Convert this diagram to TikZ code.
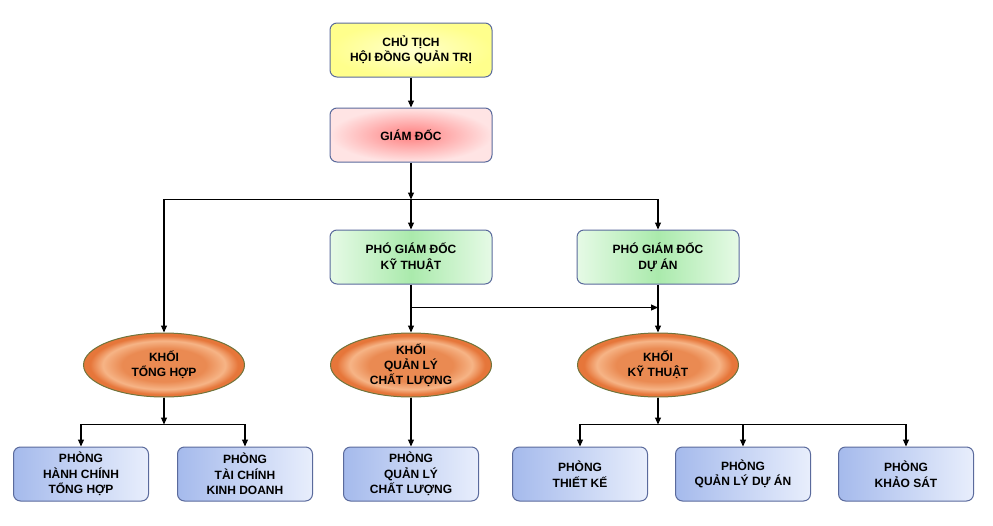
\documentclass[tikz,border=0pt]{standalone}
\usepackage{fontspec}
\setmainfont{Liberation Sans}
\usepackage{tikz}
\usetikzlibrary{arrows.meta,positioning,shapes.geometric}

\definecolor{boxline}{RGB}{90,106,156}
\definecolor{khoiline}{RGB}{112,116,60}
\definecolor{khoicore}{RGB}{234,138,82}
\definecolor{khoiring}{RGB}{246,180,134}
\definecolor{khoiedge}{RGB}{230,118,58}
\pgfdeclareradialshading{khoishade}{\pgfpoint{0bp}{0bp}}{%
  color(0bp)=(khoicore); color(13bp)=(khoicore); color(19bp)=(khoiring);
  color(23bp)=(khoiedge); color(25bp)=(khoiedge); color(50bp)=(khoiedge)}

\begin{document}
\begin{tikzpicture}[
	x=1pt, y=1pt,
	font=\fontsize{12}{15.5}\selectfont\bfseries,
	box/.style={rectangle, rounded corners=7pt, draw=boxline, line width=1pt, align=center, minimum width=162pt, minimum height=54pt, inner sep=2pt},
	chairbox/.style={box, inner color={rgb,255:red,255;green,255;blue,205}, outer color={rgb,255:red,255;green,255;blue,140}},
	ceobox/.style={box, inner color={rgb,255:red,255;green,128;blue,128}, outer color={rgb,255:red,255;green,228;blue,228}},
	deputybox/.style={box, left color={rgb,255:red,230;green,250;blue,230}, right color={rgb,255:red,230;green,250;blue,230}, middle color={rgb,255:red,170;green,234;blue,172}},
	khoi/.style={ellipse, draw=khoiline, line width=1pt, align=center, minimum width=161pt, minimum height=64pt, inner sep=0pt, shading=khoishade, font=\fontsize{12}{15}\selectfont\bfseries},
	phong/.style={box, minimum width=135pt, left color={rgb,255:red,165;green,186;blue,236}, right color={rgb,255:red,232;green,238;blue,252}},
	line/.style={-{Triangle[length=7pt,width=6pt]}, line width=1.1pt}
]
\useasboundingbox (0,0) rectangle (993,-525);

\node[chairbox] (chutich) at (411,-50) {CHỦ TỊCH\\HỘI ĐỒNG QUẢN TRỊ};
\node[ceobox, below=30pt of chutich] (giamdoc) {GIÁM ĐỐC};
\node[deputybox, below=67pt of giamdoc] (pgdkt) {PHÓ GIÁM ĐỐC\\KỸ THUẬT};
\node[deputybox, right=84pt of pgdkt] (pgdda) {PHÓ GIÁM ĐỐC\\DỰ ÁN};
\node[khoi, below=48pt of pgdkt] (khoiql) {KHỐI\\QUẢN LÝ\\CHẤT LƯỢNG};
\node[khoi, below=48pt of pgdda] (khoikt) {KHỐI\\KỸ THUẬT};
\node[khoi, left=85pt of khoiql] (khoith) {KHỐI\\TỔNG HỢP};
\node[phong, below=49pt of khoiql] (pqlcl) {PHÒNG\\QUẢN LÝ\\CHẤT LƯỢNG};
\node[phong, left=30pt of pqlcl] (ptckd) {PHÒNG\\TÀI CHÍNH\\KINH DOANH};
\node[phong, left=28pt of ptckd] (phcth) {PHÒNG\\HÀNH CHÍNH\\TỔNG HỢP};
\node[phong, right=33pt of pqlcl] (ptk) {PHÒNG\\THIẾT KẾ};
\node[phong, right=27pt of ptk] (pqlda) {PHÒNG\\QUẢN LÝ DỰ ÁN};
\node[phong, right=27pt of pqlda] (pks) {PHÒNG\\KHẢO SÁT};

\coordinate[below=37pt of giamdoc.south] (busgd);
\coordinate[below=23pt of pgdkt.south] (busql);
\coordinate[below=27pt of khoith.south] (busth);
\coordinate[below=27pt of khoikt.south] (buskt);

\draw[line] (chutich) -- (giamdoc);
\draw[line] (giamdoc) -- (busgd);
\draw[line] (busgd) -| (khoith);
\draw[line] (busgd) -- (pgdkt);
\draw[line] (busgd) -| (pgdda);
\draw[line] (pgdkt) -- (khoiql);
\draw[line] (busql) -- (busql -| pgdda);
\draw[line] (pgdda) -- (khoikt);
\draw[line] (khoith) -- (busth);
\draw[line] (busth) -| (phcth);
\draw[line] (busth) -| (ptckd);
\draw[line] (khoiql) -- (pqlcl);
\draw[line] (khoikt) -- (buskt);
\draw[line] (buskt) -| (ptk);
\draw[line] (buskt) -| (pqlda);
\draw[line] (buskt) -| (pks);
\end{tikzpicture}
\end{document}
